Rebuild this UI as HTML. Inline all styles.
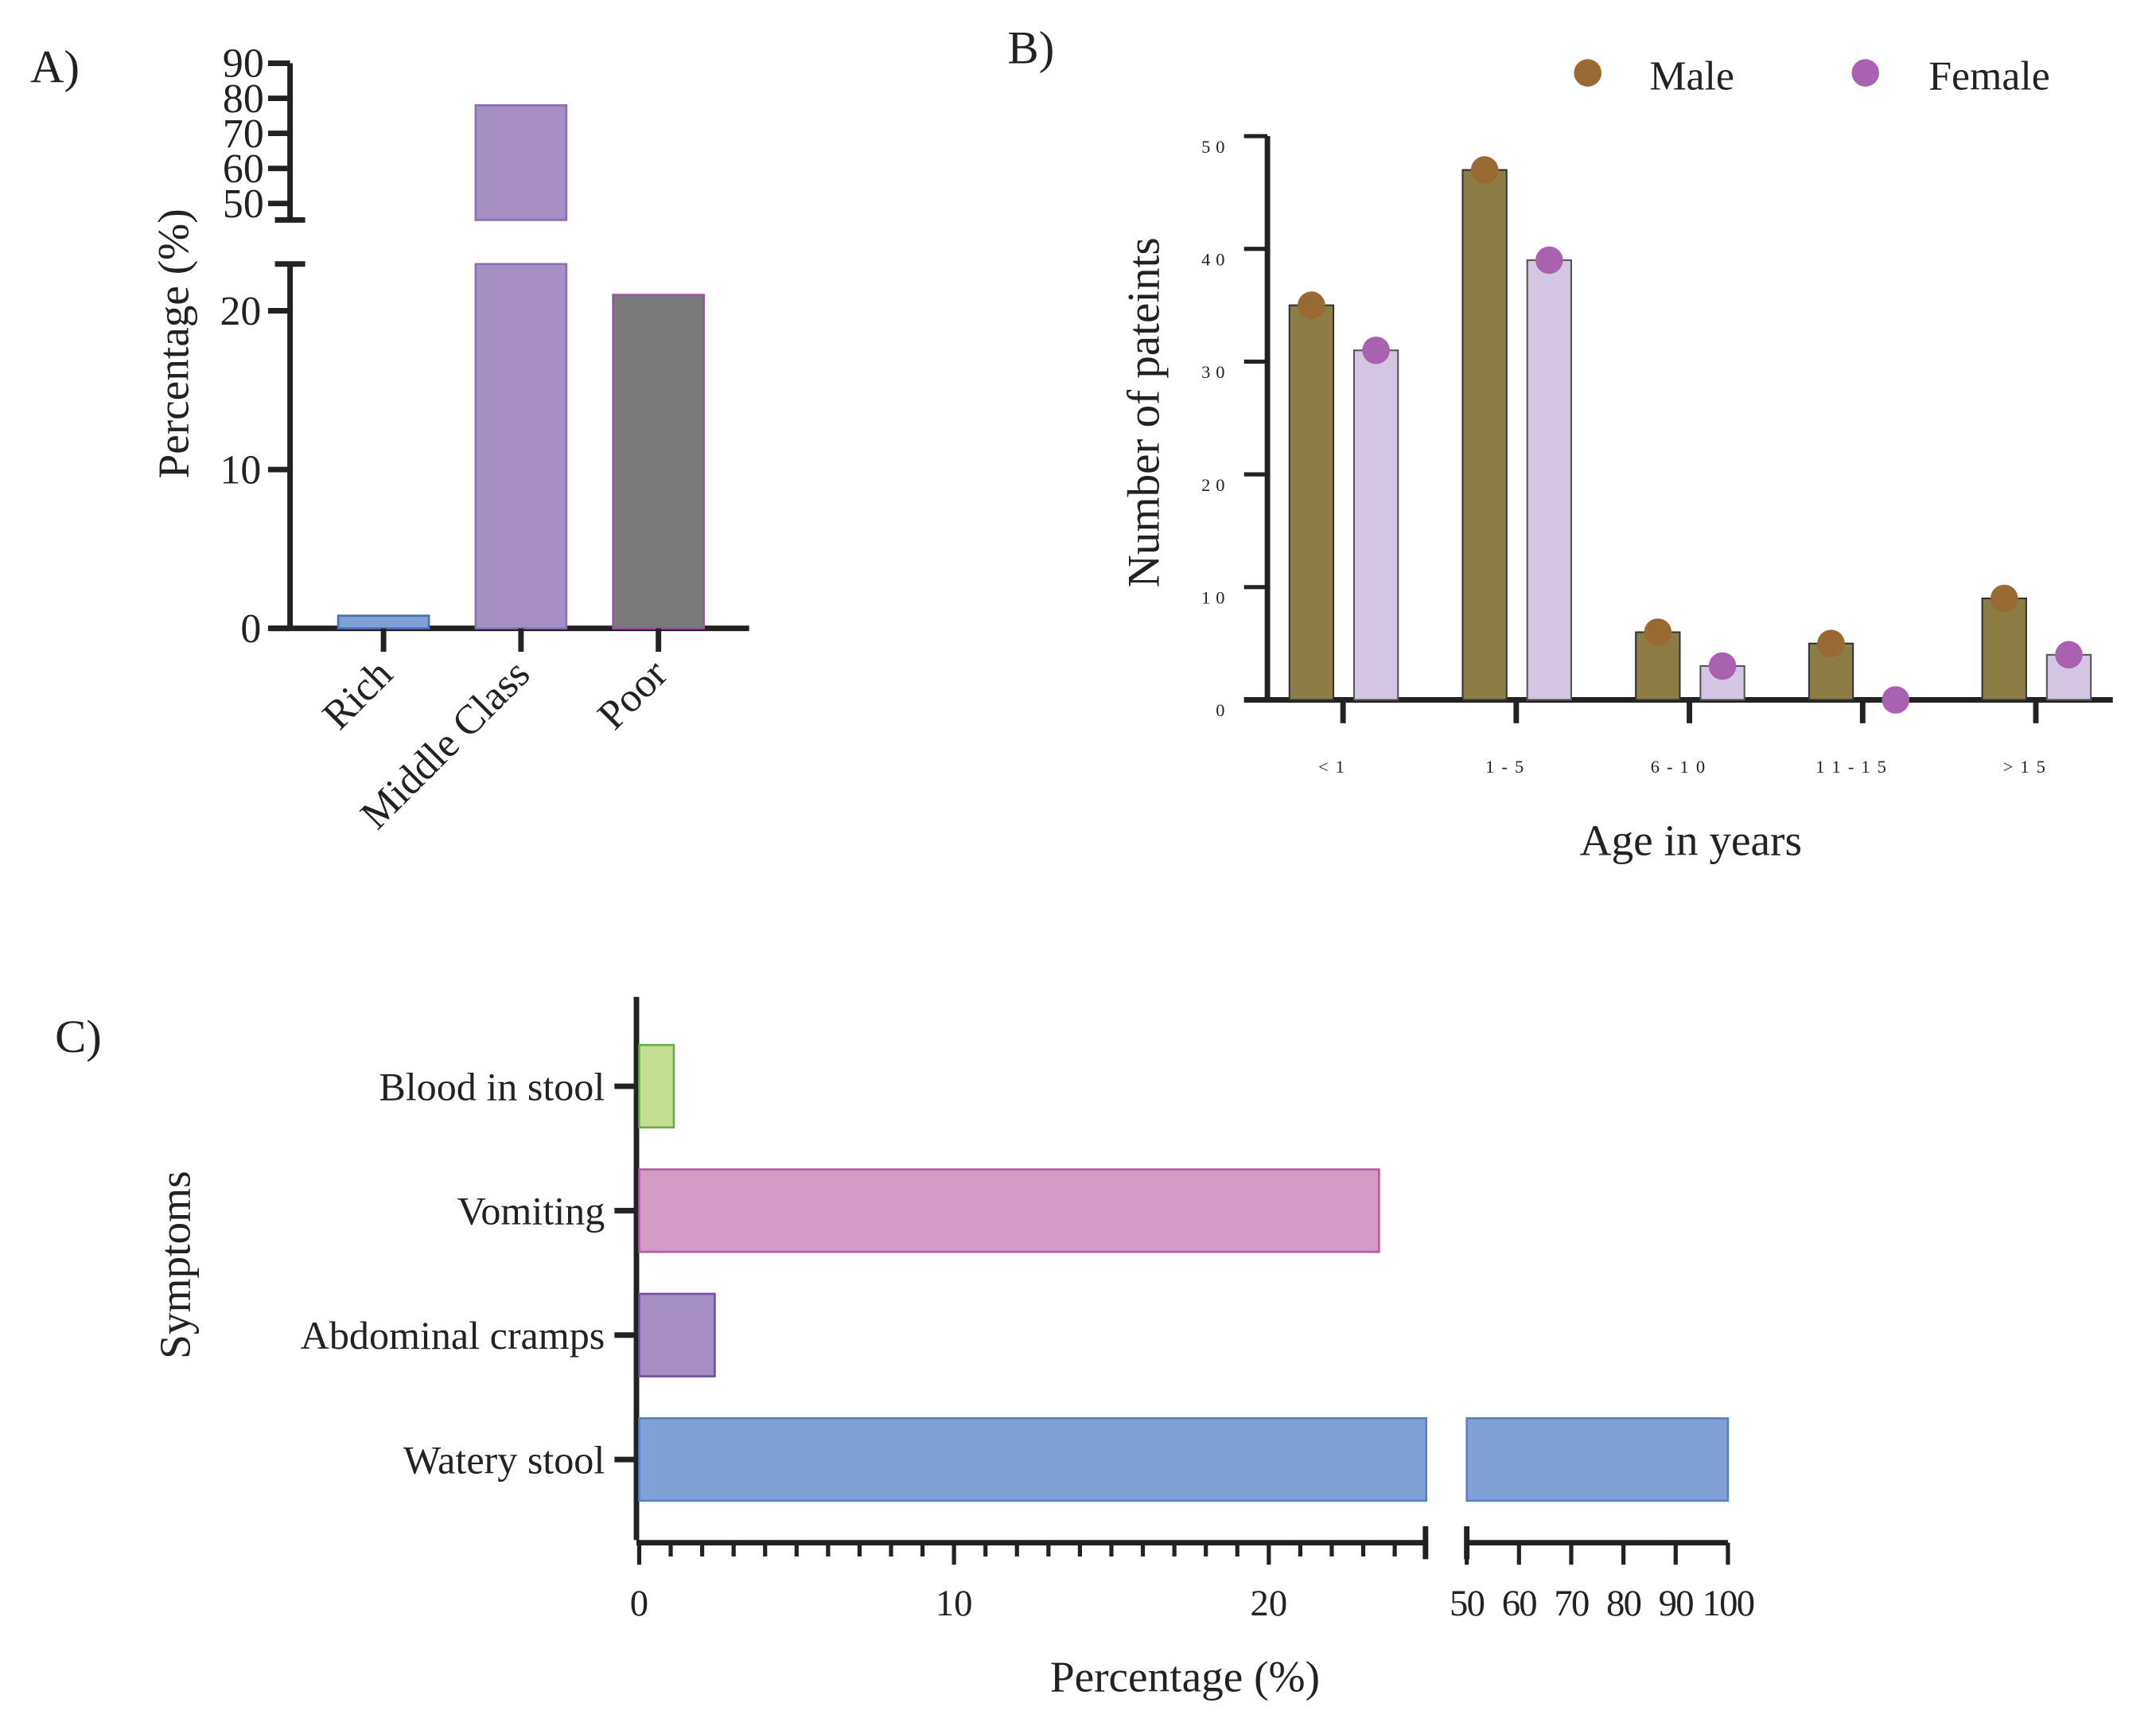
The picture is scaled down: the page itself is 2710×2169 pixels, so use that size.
<!DOCTYPE html>
<html><head><meta charset="utf-8"><style>
html,body{margin:0;padding:0;background:#fff}
svg{display:block;font-family:"Liberation Serif",serif}
</style></head><body>
<svg id="s" width="2710" height="2169" viewBox="0 0 1568.4 1255.3" preserveAspectRatio="none" xmlns="http://www.w3.org/2000/svg">
<g id="A"></g>
<g id="B"></g>
<g id="C"></g>
</svg>
<script>
const aCats=["Rich","Middle Class","Poor"];
const aVals=[0.8,78,21];
const aLowTicks=[0,10,20];
const aHighTicks=[50,60,70,80,90];
const bCats=["< 1","1 - 5","6 - 1 0","1 1 - 1 5","> 1 5"];
const bMale=[35,47,6,5,9];
const bFemale=[31,39,3,0,4];
const bTicks=[0,10,20,30,40,50];
const cCats=["Blood in stool","Vomiting","Abdominal cramps","Watery stool"];
const cVals=[1.1,23.5,2.4,100];
const cLowTicks=[0,10,20];
const cHighTicks=[50,60,70,80,90,100];

const NS="http://www.w3.org/2000/svg";
function mk(p,t,a,txt){const e=document.createElementNS(NS,t);for(const k in a)e.setAttribute(k,a[k]);if(txt!=null)e.textContent=txt;p.appendChild(e);return e;}
const ink="#222";

// Panel A
(function(){
const g=document.getElementById('A');
let e;
e=mk(g,'text',{x:22,y:60,'font-size':34,fill:ink},'A)');


const yLow=v=>457-v*11.55;
const yHigh=v=>148-(v-50)*2.55;
const ax=211;
e=mk(g,'path',{d:`M${ax},192 V457 M197,457 H545 M${ax},46 V160 M200,160 H222 M200,192 H222`,stroke:ink,'stroke-width':4,fill:'none'});


aLowTicks.forEach(t=>{const y=yLow(t);
 mk(g,'line',{x1:195,x2:ax,y1:y,y2:y,stroke:ink,'stroke-width':4});
 e=mk(g,'text',{x:190,y:y+10,'text-anchor':'end','font-size':30,fill:ink},t);
 
 });
aHighTicks.forEach(t=>{const y=yHigh(t);
 mk(g,'line',{x1:195,x2:ax,y1:y,y2:y,stroke:ink,'stroke-width':4});
 e=mk(g,'text',{x:192,y:y+10,'text-anchor':'end','font-size':30,fill:ink},t);
 
 });
e=mk(g,'text',{transform:'translate(137,250) rotate(-90)','text-anchor':'middle','font-size':32,fill:ink},'Percentage (%)');


const fills=["#7fa1d6","#a68fc4","#7a7a7a"],strokes=["#4a70b4","#8a70b0","#a050a0"];
aCats.forEach((c,i)=>{const cx=279+i*100,x=cx-33,w=66,v=aVals[i];
 if(v<=23){e=mk(g,'rect',{x,y:yLow(v),width:w,height:457-yLow(v),fill:fills[i],stroke:strokes[i],'stroke-width':1.5});}
 else{e=mk(g,'path',{d:`M${x},457 V192 H${x+w} V457 Z M${x},160 V${yHigh(v)} H${x+w} V160 Z`,fill:fills[i],stroke:strokes[i],'stroke-width':1.5});}
 
 
 mk(g,'line',{x1:cx,x2:cx,y1:457,y2:474,stroke:ink,'stroke-width':4});
 e=mk(g,'text',{transform:`translate(${cx+8},${492}) rotate(-45)`,'text-anchor':'end','font-size':30,fill:ink},c);
 
 
});
})();

// Panel B
(function(){
const g=document.getElementById('B');let e;
e=mk(g,'text',{x:733,y:46,'font-size':34,fill:ink},'B)');


const y=v=>509-v*8.2;
e=mk(g,'path',{d:`M922,${y(50)} V509 M905,509 H1537`,stroke:ink,'stroke-width':4,fill:'none'});


bTicks.forEach(t=>{mk(g,'line',{x1:905,x2:922,y1:y(t),y2:y(t),stroke:ink,'stroke-width':3});
 e=mk(g,'text',{x:895,y:y(t)+12,'text-anchor':'end','font-size':13,'letter-spacing':4,fill:ink},String(t));
 
 });
e=mk(g,'text',{transform:'translate(843,300) rotate(-90)','text-anchor':'middle','font-size':33,fill:ink},'Number of pateints');


e=mk(g,'text',{x:1230,y:622,'text-anchor':'middle','font-size':32,fill:ink},'Age in years');


bCats.forEach((c,i)=>{const cx=977+i*126;
 mk(g,'line',{x1:cx,x2:cx,y1:509,y2:526,stroke:ink,'stroke-width':4});
 e=mk(g,'text',{x:cx-8,y:562,'text-anchor':'middle','font-size':13,'letter-spacing':1,fill:ink},c);
 
 
 const mx=cx-23,fx=cx+24;
 e=mk(g,'rect',{x:mx-16,y:y(bMale[i]),width:32,height:509-y(bMale[i]),fill:'#8b7d45',stroke:'#333','stroke-width':1.2});
 
 
 e=mk(g,'rect',{x:fx-16,y:y(bFemale[i]),width:32,height:509-y(bFemale[i]),fill:'#d4c5e2',stroke:'#555','stroke-width':1.2});
 
 
 e=mk(g,'circle',{cx:mx,cy:y(bMale[i]),r:10,fill:'#9a6a35'});
 
 
 e=mk(g,'circle',{cx:fx,cy:y(bFemale[i]),r:10,fill:'#a862b0'});
 
 
});
e=mk(g,'circle',{cx:1155,cy:53,r:10,fill:'#9a6a35'});


e=mk(g,'text',{x:1200,y:65,'font-size':30,fill:ink},'Male');


e=mk(g,'circle',{cx:1357,cy:53,r:10,fill:'#a862b0'});


e=mk(g,'text',{x:1403,y:65,'font-size':30,fill:ink},'Female');


})();

// Panel C
(function(){
const g=document.getElementById('C');let e;
e=mk(g,'text',{x:40,y:765,'font-size':34,fill:ink},'C)');


const xLow=v=>465+v*22.9, xHigh=v=>1067+(v-50)*3.8;
const x=v=>v<=25?xLow(v):(v>=50?xHigh(v):xLow(25));
e=mk(g,'path',{d:`M463,725 V1120 M463,1122 H1037 M1067,1122 H1257 M1037,1110 V1134 M1067,1110 V1134`,stroke:ink,'stroke-width':4,fill:'none'});


for(let v=1;v<25;v++){if(v%10)mk(g,'line',{x1:xLow(v),x2:xLow(v),y1:1122,y2:1132,stroke:ink,'stroke-width':3});}
cLowTicks.forEach(t=>{mk(g,'line',{x1:xLow(t),x2:xLow(t),y1:1122,y2:1138,stroke:ink,'stroke-width':3});
 e=mk(g,'text',{x:xLow(t),y:1175,'text-anchor':'middle','font-size':27,fill:ink},t);
 
 });
cHighTicks.forEach(t=>{mk(g,'line',{x1:xHigh(t),x2:xHigh(t),y1:1122,y2:1138,stroke:ink,'stroke-width':3});
 e=mk(g,'text',{x:xHigh(t),y:1175,'text-anchor':'middle','font-size':27,'letter-spacing':-1,fill:ink},t);
 
 });
e=mk(g,'text',{x:862,y:1230,'text-anchor':'middle','font-size':32,fill:ink},'Percentage (%)');


e=mk(g,'text',{transform:'translate(138,920) rotate(-90)','text-anchor':'middle','font-size':32,fill:ink},'Symptoms');


const fills=["#c3de91","#d39bc4","#a68fc4","#7fa1d6"],strokes=["#6aa84f","#b05ba0","#6e4fa0","#5a80c4"];
cCats.forEach((c,i)=>{const cy=790+i*90.5,v=cVals[i];
 mk(g,'line',{x1:447,x2:463,y1:cy,y2:cy,stroke:ink,'stroke-width':4});
 e=mk(g,'text',{x:440,y:cy+10,'text-anchor':'end','font-size':29,fill:ink},c);
 
 
 if(v>25){e=mk(g,'path',{d:`M465,${cy-30} H${xLow(25)} V${cy+30} H465 Z M1067,${cy-30} H${x(v)} V${cy+30} H1067 Z`,fill:fills[i],stroke:strokes[i],'stroke-width':1.5});}
 else{e=mk(g,'rect',{x:465,y:cy-30,width:x(v)-465,height:60,fill:fills[i],stroke:strokes[i],'stroke-width':1.5});}
 
 
});
})();
</script>
</body></html>
